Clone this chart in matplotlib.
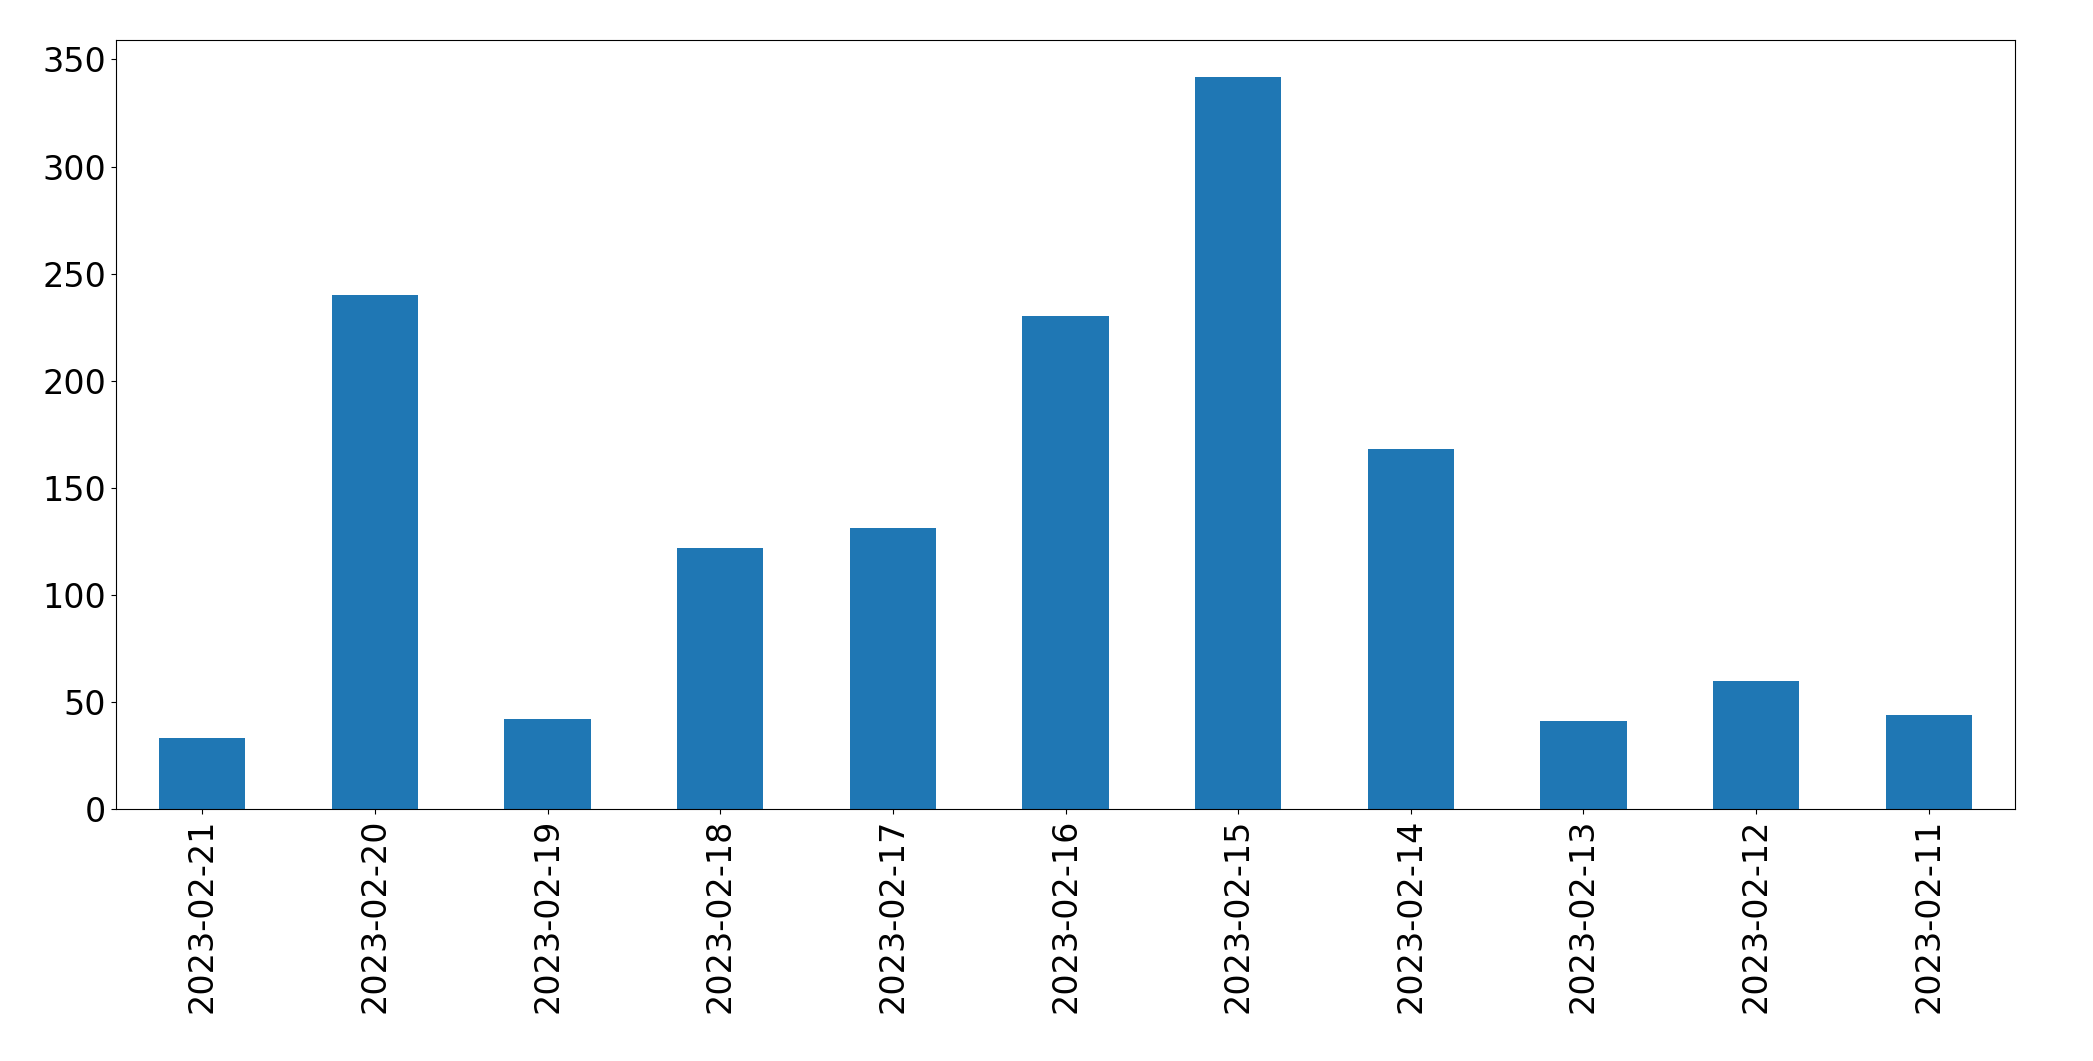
import matplotlib
matplotlib.use("Agg")
import matplotlib.pyplot as plt

dates = ["2023-02-21","2023-02-20","2023-02-19","2023-02-18","2023-02-17","2023-02-16",
         "2023-02-15","2023-02-14","2023-02-13","2023-02-12","2023-02-11"]
counts = [33, 240, 42, 122, 131, 230, 342, 168, 41, 60, 44]

fig = plt.figure(figsize=(20.93, 10.61), dpi=100)
ax = fig.add_axes([116/2093, 1-809/1061, (2015-116)/2093, (809-40)/1061])
x = range(len(dates))
ax.bar(x, counts, width=0.5, color="#1f77b4")
ax.set_xlim(-0.5, len(dates)-0.5)
ax.set_xticks(list(x))
ax.set_xticklabels(dates, rotation=90)
ax.tick_params(labelsize=24)
fig.savefig("out.png", dpi=100)
